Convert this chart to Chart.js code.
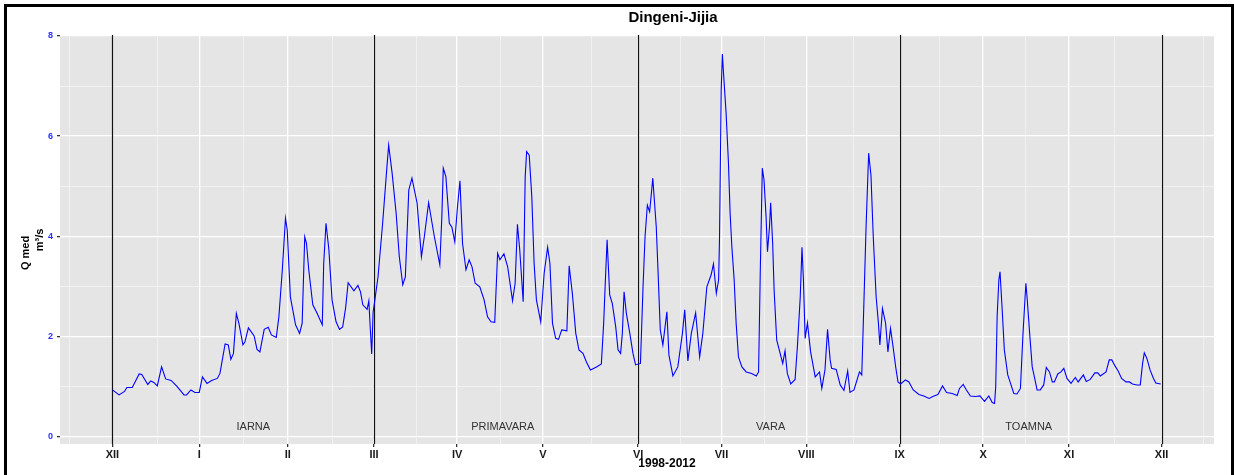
<!DOCTYPE html>
<html><head><meta charset="utf-8">
<script src="https://cdn.jsdelivr.net/npm/chart.js@4.4.1/dist/chart.umd.min.js"></script>
<style>html,body{margin:0;padding:0;background:#fff;}#wrap{position:relative;width:1234px;height:475px;}</style>
</head><body><div id="wrap"><canvas id="c"></canvas></div>
<script>
const chartTitle = 'Dingeni-Jijia';
const xAxisTitle = '1998-2012';
const yAxisTitle = ['Q med', 'm³/s'];
const monthLabels = ['XII','I','II','III','IV','V','VI','VII','VIII','IX','X','XI','XII'];
const monthPos = [0, 30.2, 61.0, 91.0, 119.9, 149.8, 182.9, 211.9, 241.4, 273.9, 302.9, 332.8, 365];
const minorPos = [-14.9, 15.6, 45.5, 76.4, 105.8, 135.0, 166.6, 197.6, 227.0, 257.7, 287.9, 317.8, 348.6, 379.6];
const yTicks = [0,1,2,3,4,5,6,7,8];
const seasonNames = ['IARNA','PRIMAVARA','VARA','TOAMNA'];
const seasonLabelX = [49, 135.8, 229, 318.8];
const seasonLabelY = 0.19;
const seasonBounds = [0, 91.0, 182.9, 273.9, 365];

const days = [0,2.3,4.2,5.0,6.9,9.3,10.2,12.3,13.3,14.4,15.6,17.1,18.5,20.4,22.3,24.9,25.8,27.3,28.7,30.2,31.3,32.9,34.5,36.5,37.4,39.2,40.3,41.2,42.1,43.1,44.0,45.4,46.1,47.3,49.3,50.3,51.3,52.8,54.2,
55.3,57.0,57.9,59.1,60.2,60.8,61.9,63.7,65.1,66.0,66.9,67.5,68.3,69.7,71.2,73.0,73.5,74.3,75.3,76.4,77.8,79.0,80.1,81.1,82.0,84.0,85.4,86.3,87.1,88.6,89.2,89.7,90.2,90.7,91.3,92.4,94.0,95.5,96.1,97.3,98.7,99.8,101.0,101.9,103.1,104.2,106.0,107.5,
108.5,110.0,112.0,113.9,114.6,115.1,116.0,117.2,118.1,119.1,120.0,120.9,121.8,123.0,124.1,125.1,126.2,127.8,129.3,130.5,131.7,133.0,134.0,134.8,136.2,137.5,139.2,140.1,140.9,141.7,142.9,143.6,144.1,145.0,145.9,146.7,147.5,149.0,150.2,151.4,152.2,153.1,154.2,155.2,156.3,158.1,158.9,160.0,161.2,
162.3,163.7,164.9,166.3,168.4,170.1,170.9,171.6,172.1,173.0,173.9,175.1,175.9,176.8,177.4,178.0,178.8,180.0,181.1,182.0,183.7,184.6,185.3,186.1,186.9,188.0,189.2,189.8,190.6,191.5,192.9,193.6,195.0,196.7,198.3,199.1,200.2,201.4,202.9,204.3,205.4,206.8,208.3,209.1,210.1,210.9,211.2,211.8,212.2,212.6,213.5,
214.3,214.9,215.5,216.3,217.0,217.8,219.0,220.5,222.4,224.0,224.8,225.4,226.1,226.7,227.4,227.9,228.6,229.0,229.7,230.2,231.1,232.3,233.2,234.0,234.8,236.0,237.5,238.3,239.3,239.9,240.4,241.0,241.8,242.9,244.5,246.0,246.8,247.9,248.8,249.7,250.2,251.8,253.2,254.5,255.8,256.6,258.0,259.9,260.7,261.2,262.2,263.1,263.9,264.7,265.7,266.5,267.0,267.9,
269.0,269.8,270.7,271.6,272.5,273.3,274.2,275.9,277.1,278.6,280.6,282.3,284.1,285.8,287.2,288.8,290.2,292.2,293.9,294.7,296.0,297.1,298.5,300.3,301.8,303.4,304.9,306.1,306.9,307.3,307.8,308.4,308.8,309.5,310.3,311.5,312.4,313.6,314.7,315.9,316.8,317.8,318.2,319.2,320.0,
320.5,321.7,322.8,324.0,324.9,326.0,327.0,327.7,328.9,330.0,331.0,332.1,333.5,335.0,336.0,337.8,338.8,340.2,341.8,342.8,343.7,345.7,346.8,347.7,348.8,349.9,351.1,352.6,353.8,354.9,356.4,357.6,358.4,359.0,359.9,361.0,362.2,363.0,364.7];

const flow = [0.93,0.83,0.90,0.98,0.98,1.25,1.24,1.04,1.11,1.08,1.01,1.39,1.15,1.12,1.01,0.83,0.83,0.93,0.88,0.88,1.19,1.06,1.12,1.16,1.26,1.85,1.83,1.54,1.66,2.46,2.26,1.83,1.89,2.17,2.01,1.74,1.69,2.14,2.18,
2.03,1.98,2.39,3.33,4.36,4.13,2.79,2.23,2.06,2.26,3.99,3.86,3.33,2.63,2.46,2.23,3.46,4.26,3.73,2.73,2.29,2.14,2.19,2.56,3.07,2.91,3.02,2.89,2.63,2.54,2.71,2.16,1.65,2.49,2.73,3.19,4.26,5.39,5.82,5.26,4.46,3.59,3.03,3.19,4.92,5.16,4.66,3.59,
3.99,4.67,3.99,3.43,4.39,5.36,5.19,4.26,4.18,3.89,4.56,5.11,3.86,3.33,3.53,3.39,3.06,2.99,2.73,2.39,2.29,2.28,3.66,3.53,3.65,3.39,2.71,3.06,4.24,3.73,2.69,5.19,5.69,5.62,4.79,3.46,2.73,2.29,3.26,3.78,3.46,2.26,1.96,1.94,2.13,2.11,3.41,2.86,2.06,
1.73,1.66,1.49,1.33,1.39,1.45,2.26,3.26,3.93,2.83,2.66,2.19,1.73,1.66,2.06,2.89,2.46,2.06,1.66,1.43,1.46,2.99,3.99,4.62,4.49,5.16,4.19,3.33,2.13,1.83,2.49,1.63,1.21,1.39,2.06,2.53,1.51,2.06,2.47,1.59,2.06,2.99,3.23,3.45,2.86,3.13,3.93,6.92,7.64,7.26,6.46,
5.49,4.46,3.79,3.13,2.26,1.59,1.39,1.29,1.26,1.21,1.29,3.33,5.36,5.12,4.39,3.69,4.19,4.67,3.86,2.93,1.93,1.66,1.46,1.71,1.26,1.05,1.14,1.79,2.79,3.78,3.13,1.96,2.27,1.69,1.19,1.29,0.96,1.33,2.14,1.53,1.36,1.34,1.03,0.92,1.31,0.88,0.93,1.29,1.23,2.19,4.19,5.66,5.22,3.99,2.79,2.26,1.83,2.56,
2.26,1.69,2.16,1.79,1.39,1.09,1.05,1.13,1.09,0.93,0.84,0.81,0.76,0.81,0.84,1.01,0.88,0.86,0.82,0.96,1.04,0.93,0.81,0.80,0.81,0.70,0.81,0.68,0.66,0.99,2.39,3.13,3.29,2.59,1.73,1.23,1.07,0.86,0.85,0.96,2.06,3.06,2.79,1.99,1.39,
1.26,0.93,0.93,1.03,1.38,1.29,1.09,1.09,1.25,1.29,1.36,1.16,1.06,1.18,1.09,1.23,1.10,1.14,1.27,1.27,1.21,1.29,1.53,1.53,1.41,1.31,1.16,1.09,1.09,1.05,1.03,1.03,1.46,1.67,1.56,1.33,1.16,1.07,1.05];

const FONT = '"Liberation Sans", Arial, Helvetica, sans-serif';
const isMajorX = v => monthPos.indexOf(v) >= 0;

const decor = {
  id: 'decor',
  beforeDraw(chart) {
    const {ctx, chartArea: a} = chart;
    ctx.save();
    ctx.fillStyle = '#ffffff';
    ctx.fillRect(0, 0, chart.width, chart.height);
    ctx.fillStyle = '#E5E5E5';
    ctx.fillRect(a.left, a.top, a.right - a.left, a.bottom - a.top);
    ctx.fillStyle = '#000';
    ctx.fillRect(4, 4, chart.width - 4, 3);
    ctx.fillRect(4, 4, 3, chart.height);
    ctx.fillRect(1231, 4, 3, chart.height);
    ctx.restore();
  },
  beforeDatasetsDraw(chart) {
    const {ctx, chartArea: a, scales} = chart;
    ctx.save();
    ctx.strokeStyle = '#111';
    ctx.lineWidth = 1.2;
    seasonBounds.forEach(v => {
      const x = Math.round(scales.x.getPixelForValue(v)) + 0.5;
      ctx.beginPath(); ctx.moveTo(x, a.top); ctx.lineTo(x, a.bottom); ctx.stroke();
    });
    ctx.fillStyle = '#333';
    ctx.font = '11px ' + FONT;
    ctx.textAlign = 'center'; ctx.textBaseline = 'middle';
    seasonNames.forEach((n, i) => {
      ctx.fillText(n, scales.x.getPixelForValue(seasonLabelX[i]), scales.y.getPixelForValue(seasonLabelY));
    });
    ctx.restore();
  },
  afterDraw(chart) {
    const {ctx} = chart;
    ctx.save();
    ctx.fillStyle = '#000';
    ctx.textAlign = 'center'; ctx.textBaseline = 'middle';
    ctx.font = 'bold 15px ' + FONT;
    ctx.fillText(chartTitle, 673, 18);
    ctx.font = 'bold 12px ' + FONT;
    ctx.fillText(xAxisTitle, 667, 464);
    ctx.font = 'bold 11px ' + FONT;
    ctx.save(); ctx.translate(26, 253); ctx.rotate(-Math.PI / 2); ctx.fillText(yAxisTitle[0], 0, 0); ctx.restore();
    ctx.save(); ctx.translate(40, 240); ctx.rotate(-Math.PI / 2); ctx.fillText(yAxisTitle[1], 0, 0); ctx.restore();
    ctx.restore();
  }
};

new Chart(document.getElementById('c'), {
  type: 'line',
  data: {
    datasets: [{
      data: days.map((d, i) => ({x: d, y: flow[i]})),
      borderColor: '#0000ff',
      borderWidth: 1.1,
      pointRadius: 0,
      tension: 0,
      fill: false
    }]
  },
  options: {
    responsive: true,
    maintainAspectRatio: false,
    animation: false,
    layout: {padding: {left: 0, right: 20, top: 35, bottom: 0}},
    plugins: {legend: {display: false}, tooltip: {enabled: false}, title: {display: false}},
    scales: {
      x: {
        type: 'linear', min: -18.25, max: 383.25,
        afterBuildTicks: s => { s.ticks = monthPos.concat(minorPos).sort((a, b) => a - b).map(v => ({value: v})); },
        afterFit: s => { s.height = 31; },
        border: {display: false},
        grid: {
          color: c => isMajorX(c.tick.value) ? '#ffffff' : '#F2F2F2',
          lineWidth: c => isMajorX(c.tick.value) ? 1.3 : 0.9,
          tickColor: c => isMajorX(c.tick.value) ? '#333333' : 'rgba(0,0,0,0)',
          tickLength: 3, drawTicks: true
        },
        ticks: {
          autoSkip: false, maxRotation: 0, minRotation: 0, padding: 1,
          color: '#1a1a1a', font: {family: FONT, size: 11, weight: 'bold'},
          callback: v => { const i = monthPos.indexOf(v); return i >= 0 ? monthLabels[i] : ''; }
        }
      },
      y: {
        type: 'linear', min: -0.15, max: 8.02,
        afterBuildTicks: s => { s.ticks = yTicks.map(v => ({value: v})); },
        afterFit: s => { s.width = 60; },
        border: {display: false},
        grid: {
          color: c => c.tick.value % 2 === 0 ? '#ffffff' : '#F2F2F2',
          lineWidth: c => c.tick.value % 2 === 0 ? 1.3 : 0.9,
          tickColor: c => c.tick.value % 2 === 0 ? '#333333' : 'rgba(0,0,0,0)',
          tickLength: 3, drawTicks: true
        },
        ticks: {
          padding: 4, color: '#2b2bff', font: {family: FONT, size: 9, weight: 'bold'},
          callback: v => v % 2 === 0 ? String(v) : ''
        }
      }
    }
  },
  plugins: [decor]
});
</script>
</body></html>
